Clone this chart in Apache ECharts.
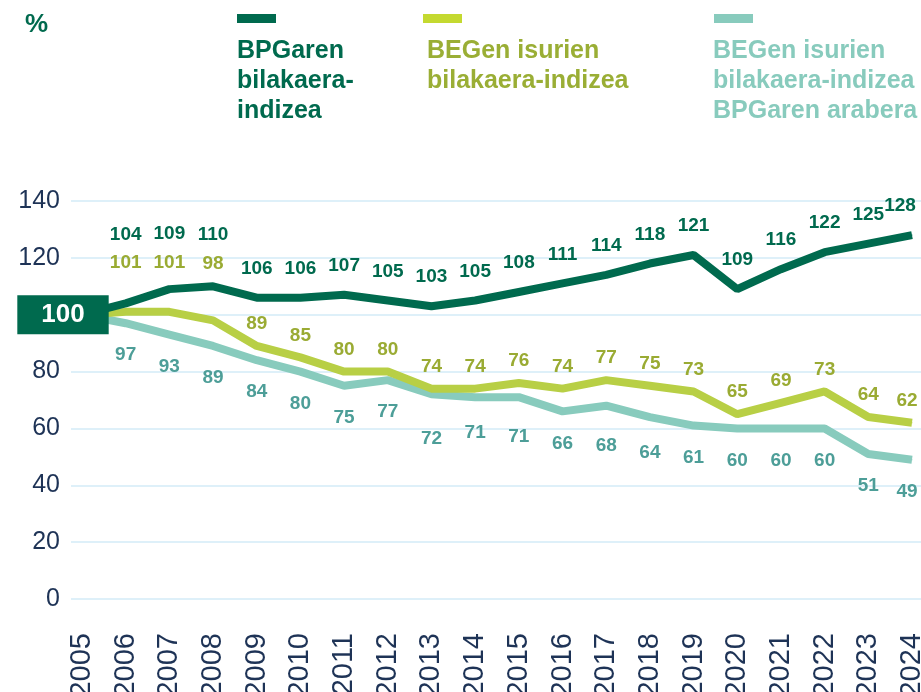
<!DOCTYPE html>
<html>
<head>
<meta charset="utf-8">
<script src="https://cdn.jsdelivr.net/npm/echarts@6/dist/echarts.min.js"></script>
<style>
  html, body { margin: 0; padding: 0; background: #fff; }
  #main { width: 921px; height: 692px; }
</style>
</head>
<body>
<div id="main"></div>
<script>
// datuak
const years = ['2005', '2006', '2007', '2008', '2009', '2010', '2011', '2012', '2013', '2014',
  '2015', '2016', '2017', '2018', '2019', '2020', '2021', '2022', '2023', '2024'];
const bpg = [100, 104, 109, 110, 106, 106, 107, 105, 103, 105, 108, 111, 114, 118, 121, 109, 116, 122, 125, 128];
const beg = [100, 101, 101, 98, 89, 85, 80, 80, 74, 74, 76, 74, 77, 75, 73, 65, 69, 73, 64, 62];
const intensity = [100, 97, 93, 89, 84, 80, 75, 77, 72, 71, 71, 66, 68, 64, 61, 60, 60, 60, 51, 49];
const seriesNames = ['BPGaren\nbilakaera-\nindizea', 'BEGen isurien\nbilakaera-indizea', 'BEGen isurien\nbilakaera-indizea\nBPGaren arabera'];
const yTicks = [0, 20, 40, 60, 80, 100, 120, 140];

const font = '"Liberation Sans", Arial, sans-serif';
const colors = ['#006a4e', '#b8cf45', '#88cbbd'];
const legendRect = ['#006a4e', '#c4d930', '#88cbbd'];
const legendText = ['#006a4e', '#9aae35', '#88cbbd'];
const labelColors = ['#006a4e', '#9aab33', '#4d9e98'];

let myChart = echarts.init(document.getElementById('main'));

// etiketa batzuk lekuz aldatuta daude
function items(values, extra) {
  return values.map(function (v, i) {
    let item = { value: v };
    if (extra[i]) item.label = { offset: extra[i] };
    return item;
  });
}

let bpgData = items(bpg, { 1: [0, -40], 2: [0, -26], 3: [0, -23], 19: [-12, 0] });
bpgData[0].label = {
  show: true,
  position: 'inside',
  offset: [-19, 0],
  formatter: '100',
  color: '#fff',
  fontSize: 26,
  lineHeight: 25,
  fontWeight: 'bold',
  backgroundColor: '#006a4e',
  padding: [7, 24]
};
let begData = items(beg, { 1: [0, -27], 2: [0, -27], 3: [0, -35], 19: [-5, 0] });
begData[0].label = { show: false };
let intData = items(intensity, { 8: [0, 12], 9: [0, 4], 10: [0, 8], 12: [0, 8], 13: [0, 4], 19: [-5, 0] });
intData[0].label = { show: false };

function lineSeries(idx, data, pos, dist, z) {
  return {
    name: seriesNames[idx],
    type: 'line',
    xAxisIndex: 1,
    yAxisIndex: 1,
    data: data,
    z: z,
    symbol: 'circle',
    symbolSize: 1,
    itemStyle: { color: colors[idx] },
    lineStyle: { color: colors[idx], width: 8 },
    label: {
      show: true,
      position: pos,
      distance: dist,
      color: labelColors[idx],
      fontSize: 19,
      fontWeight: 'bold',
      fontFamily: font
    },
    animation: false
  };
}

// legenda: marra + testua azpian
let rectX = [237, 423, 714];
let textX = [237, 427, 713];
let graphics = [{
  type: 'text', left: 25, top: 12,
  style: { text: '%', fill: '#006a4e', font: 'bold 26px ' + font }
}];
seriesNames.forEach(function (name, i) {
  graphics.push({
    type: 'rect', left: rectX[i], top: 14,
    shape: { width: 39, height: 9 },
    style: { fill: legendRect[i] }
  });
  graphics.push({
    type: 'text', left: textX[i], top: 36,
    style: { text: name, fill: legendText[i], font: 'bold 25px ' + font, lineHeight: 30 }
  });
});

let option = {
  animation: false,
  textStyle: { fontFamily: font },
  graphic: graphics,
  grid: [
    { left: 71, right: 0, top: 201, bottom: 93, outerBoundsMode: 'none' },
    { left: 82, right: 9, top: 201, bottom: 93, outerBoundsMode: 'none' }
  ],
  xAxis: [
    { gridIndex: 0, type: 'value', min: 0, max: 1, show: false },
    {
      gridIndex: 1,
      type: 'category',
      data: years,
      boundaryGap: false,
      axisLine: { show: false },
      axisTick: { show: false },
      axisLabel: { rotate: 90, interval: 0, fontSize: 29, color: '#1e3356', margin: 34, fontFamily: font }
    }
  ],
  yAxis: [
    {
      gridIndex: 0,
      type: 'value',
      min: yTicks[0],
      max: yTicks[yTicks.length - 1],
      interval: 20,
      axisLine: { show: false },
      axisTick: { show: false },
      axisLabel: { fontSize: 25, color: '#1e3356', margin: 11, fontFamily: font },
      splitLine: { lineStyle: { color: '#d3ebf7', width: 1.5 } }
    },
    {
      gridIndex: 1,
      type: 'value',
      min: yTicks[0],
      max: yTicks[yTicks.length - 1],
      interval: 20,
      show: false,
      splitLine: { show: false }
    }
  ],
  series: [
    lineSeries(2, intData, 'bottom', 22, 2),
    lineSeries(1, begData, 'top', 12, 3),
    lineSeries(0, bpgData, 'top', 19, 5)
  ]
};

myChart.setOption(option);
</script>
</body>
</html>
